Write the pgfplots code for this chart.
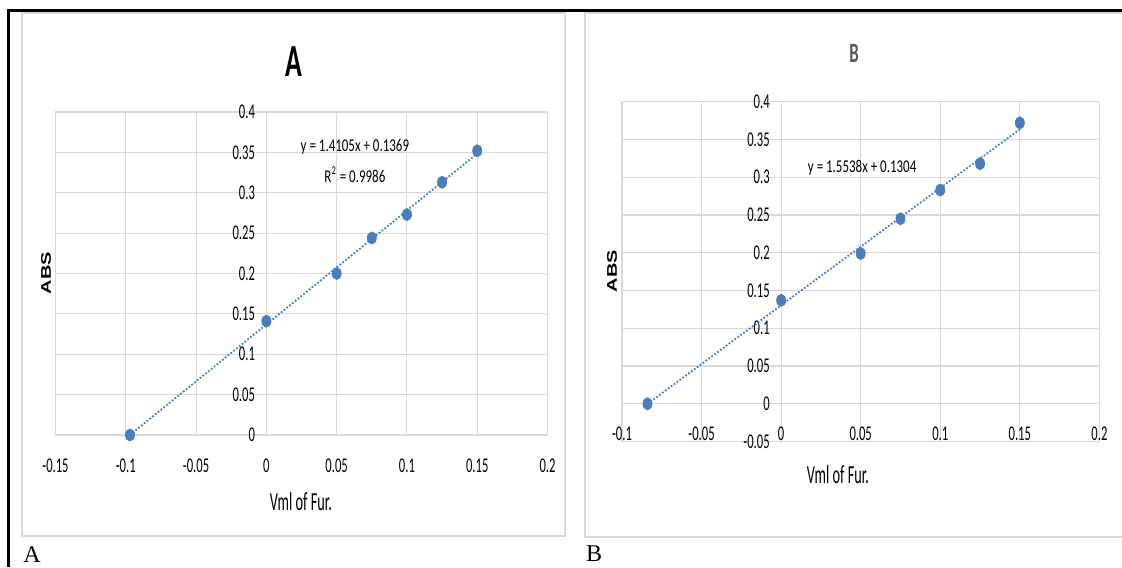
\documentclass[border=0pt]{standalone}
\usepackage{fontspec}
\setmainfont{Liberation Serif}
\newfontfamily\cf{Carlito}[FakeStretch=0.6]
\newfontfamily\cfl{Carlito}[FakeStretch=0.55]
\newfontfamily\cfeq{Carlito}[FakeStretch=0.72]
\newfontfamily\absf{Liberation Sans}
\usepackage{pgfplots}
\pgfplotsset{compat=1.18}
\definecolor{gridgray}{RGB}{217,217,217}
\definecolor{ptblue}{RGB}{74,126,187}
\definecolor{titlegray}{RGB}{89,89,89}
\pgfplotsset{
  excelstyle/.style={
    scale only axis,
    axis lines=middle,
    axis line style={draw=gridgray, line width=0.55pt, -},
    grid=major,
    grid style={draw=gridgray, line width=0.55pt},
    major tick length=0pt,
    hide obscured x ticks=false,
    hide obscured y ticks=false,
    tick label style={font=\cf\fontsize{10.5}{12}\selectfont, text=black},
    xticklabel style={anchor=north, yshift=-8.2pt},
    yticklabel style={anchor=east, xshift=-2.2pt},
    clip=false,
    scaled ticks=false,
    anchor=south west,
  },
}
\begin{document}
\begin{tikzpicture}
\path[use as bounding box] (0pt,0pt) rectangle (561pt,-283.5pt);
% chart borders
\draw[gridgray, line width=0.8pt] (11pt,-6.5pt) rectangle (282.5pt,-268pt);
\draw[gridgray, line width=0.8pt] (561pt,-6.5pt) -- (292.5pt,-6.5pt) -- (292.5pt,-268.5pt) -- (561pt,-268.5pt);
% table frame
\draw[black, line width=1.5pt] (561pt,-5.35pt) -- (4.15pt,-5.35pt) -- (4.15pt,-283.5pt);

% ---------- Panel A ----------
\begin{axis}[excelstyle,
  at={(27.75pt,-217.5pt)},
  width=246pt, height=161.5pt,
  xmin=-0.15, xmax=0.2, ymin=0, ymax=0.4,
  xtick={-0.15,-0.1,-0.05,0,0.05,0.1,0.15,0.2},
  xticklabels={-0.15,-0.1,-0.05,0,0.05,0.1,0.15,0.2},
  ytick={0,0.05,0.1,0.15,0.2,0.25,0.3,0.35,0.4},
  yticklabels={0,0.05,0.1,0.15,0.2,0.25,0.3,0.35,0.4},
]
\addplot[ptblue, line width=0.9pt, dash pattern=on 0.9pt off 0.9pt, no marks]
  coordinates {(-0.0971,0) (0.15,0.3485)};
\addplot[only marks, mark=*, mark size=3pt, mark options={fill=ptblue, draw=ptblue, xscale=0.75}]
  coordinates {(-0.097,0) (0,0.141) (0.05,0.200) (0.075,0.244) (0.1,0.273) (0.125,0.313) (0.15,0.352)};
\node[font=\cfeq\fontsize{9}{10}\selectfont] at (axis cs:0.063,0.3567) {y = 1.4105x + 0.1369};
\node[font=\cfeq\fontsize{9}{10}\selectfont] at (axis cs:0.063,0.322) {R\textsuperscript{2} = 0.9986};
\end{axis}

% ---------- Panel B ----------
\begin{axis}[excelstyle,
  at={(311pt,-220.75pt)},
  width=238.7pt, height=169.9pt,
  xmin=-0.1, xmax=0.2, ymin=-0.05, ymax=0.4,
  xtick={-0.1,-0.05,0,0.05,0.1,0.15,0.2},
  xticklabels={-0.1,-0.05,0,0.05,0.1,0.15,0.2},
  ytick={-0.05,0,0.05,0.1,0.15,0.2,0.25,0.3,0.35,0.4},
  yticklabels={-0.05,0,0.05,0.1,0.15,0.2,0.25,0.3,0.35,0.4},
]
\addplot[ptblue, line width=0.9pt, dash pattern=on 0.9pt off 0.9pt, no marks]
  coordinates {(-0.0839,0) (0.15,0.3635)};
\addplot[only marks, mark=*, mark size=3pt, mark options={fill=ptblue, draw=ptblue, xscale=0.75}]
  coordinates {(-0.084,0) (0,0.137) (0.05,0.199) (0.075,0.245) (0.1,0.283) (0.125,0.318) (0.15,0.372)};
\node[font=\cfeq\fontsize{9}{10}\selectfont] at (axis cs:0.0509,0.312) {y = 1.5538x + 0.1304};
\end{axis}

% titles and labels
\node[font=\cf\bfseries\fontsize{23}{26}\selectfont] at (147pt,-31pt) {A};
\node[font=\cf\bfseries\fontsize{14}{16}\selectfont, text=titlegray] at (427pt,-26.5pt) {B};
\node[font=\cfl\fontsize{13}{15}\selectfont] at (150.5pt,-251pt) {Vml of Fur.};
\node[font=\cfl\fontsize{13}{15}\selectfont] at (419pt,-237.5pt) {Vml of Fur.};
\node[font=\absf\bfseries\fontsize{10}{12}\selectfont, rotate=90, yscale=0.7] at (23pt,-136.5pt) {ABS};
\node[font=\absf\bfseries\fontsize{10}{12}\selectfont, rotate=90, yscale=0.7] at (306pt,-135.5pt) {ABS};
% captions
\node[font=\fontsize{12}{14}\selectfont] at (16pt,-277.5pt) {A};
\node[font=\fontsize{12}{14}\selectfont] at (297pt,-277pt) {B};
\end{tikzpicture}
\end{document}
